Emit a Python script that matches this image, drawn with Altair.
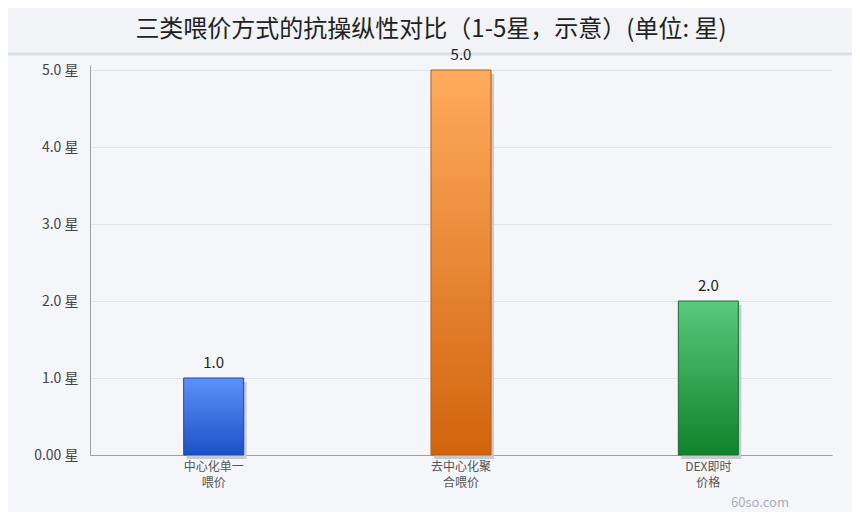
import altair as alt
import pandas as pd

categories = ["中心化单一\n喂价", "去中心化聚\n合喂价", "DEX即时\n价格"]
values = [1.0, 5.0, 2.0]
top_colors = ["#5d92fa", "#ffab5e", "#57ca7c"]
bottom_colors = ["#1c50c6", "#d2640d", "#10822c"]
stroke_colors = ["#1d47b0", "#b85a12", "#137030"]
y_ticks = [0, 1, 2, 3, 4, 5]

df = pd.DataFrame({"cat": categories, "val": values})

W, H = 742, 390
FONT = "Noto Sans CJK SC"

x = alt.X("cat:N", sort=categories,
          scale=alt.Scale(paddingInner=0, paddingOuter=0),
          axis=alt.Axis(title=None, labelAngle=0, ticks=False, labelPadding=6,
                        labelFontSize=12, labelColor="#555", labelFont=FONT,
                        labelLineHeight=16, domainColor="#9aa0ab",
                        labelExpr="split(datum.value, '\\n')"))
y = alt.Y("val:Q", scale=alt.Scale(domain=[0, 5.065], nice=False),
          axis=alt.Axis(title=None, values=y_ticks, ticks=False, labelPadding=12,
                        labelFontSize=14, labelColor="#444", labelFont=FONT,
                        domainColor="#9aa0ab", gridColor="#dfe3ea",
                        labelExpr="datum.value == 0 ? '0.00 星' : format(datum.value, '.1f') + ' 星'"))

base = alt.Chart(df)

# title band
band = alt.Chart(pd.DataFrame({"a": [0]})).mark_rect(color="#f1f3f6").encode(
    x=alt.value(-90), x2=alt.value(W + 20), y=alt.value(-65), y2=alt.value(-12))
sep = alt.Chart(pd.DataFrame({"a": [0]})).mark_rule(color="#dde0e8", strokeWidth=3).encode(
    x=alt.value(-90), x2=alt.value(W + 20), y=alt.value(-11))

shadow = base.mark_bar(size=60, color="#c6cad3", xOffset=3, yOffset=4, y2Offset=4).encode(
    x=x, y=y)

layers = [band, sep, shadow]
for i, c in enumerate(categories):
    bar = alt.Chart(df[df.cat == c]).mark_bar(
        size=60, strokeWidth=1, stroke=stroke_colors[i],
        color=alt.Gradient(gradient="linear", x1=0, y1=0, x2=0, y2=1,
                           stops=[alt.GradientStop(color=top_colors[i], offset=0),
                                  alt.GradientStop(color=bottom_colors[i], offset=1)])
    ).encode(x=x, y=y)
    layers.append(bar)

labels = base.mark_text(dy=-15, fontSize=15, color="#222", font=FONT).encode(
    x=x, y=y, text=alt.Text("val:Q", format=".1f"))
layers.append(labels)

title = alt.Chart(pd.DataFrame({"t": ["三类喂价方式的抗操纵性对比（1-5星，示意）(单位: 星)"]})).mark_text(
    fontSize=24, color="#222", font=FONT, fontWeight="normal").encode(
    x=alt.value(341), y=alt.value(-35), text="t:N")
wm = alt.Chart(pd.DataFrame({"t": ["60so.com"]})).mark_text(
    fontSize=13, color="#aab0bb", font=FONT).encode(
    x=alt.value(670), y=alt.value(438), text="t:N")
layers += [title, wm]

chart = alt.layer(*layers).properties(
    width=W, height=H,
    autosize=alt.AutoSizeParams(type="none"),
    padding={"left": 82, "top": 57, "right": 20, "bottom": 57},
    background="#f4f6fa",
).configure_view(stroke=None).configure_axisY(domain=True, grid=True).configure_axisX(grid=False)

chart.save("out.html", embed_options={"renderer": "svg", "actions": False})
